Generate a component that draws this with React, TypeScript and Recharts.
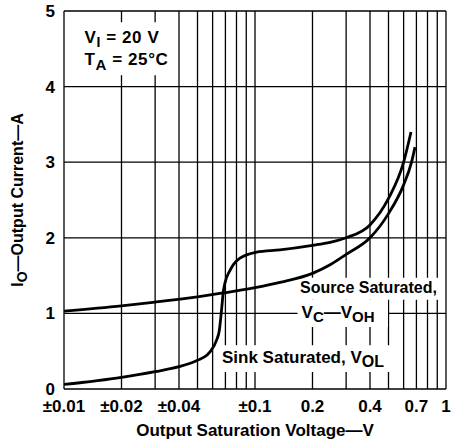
import React from "react";
import { LineChart, Line, XAxis, YAxis, ReferenceLine, ReferenceArea } from "recharts";

const FONT = '"Liberation Sans", Arial, Helvetica, sans-serif';

// output saturation voltage (V) and output current (A)
const sinkV = [0.01, 0.02, 0.03, 0.04, 0.05, 0.0561, 0.0581, 0.063, 0.0651, 0.0663, 0.0673, 0.0681, 0.0696, 0.074, 0.0834, 0.102, 0.135, 0.2, 0.247, 0.3, 0.4, 0.5, 0.6, 0.656];
const sinkI = [0.06, 0.155, 0.23, 0.295, 0.38, 0.45, 0.49, 0.65, 0.78, 0.96, 1.13, 1.27, 1.4, 1.57, 1.73, 1.81, 1.84, 1.9, 1.94, 2.0, 2.17, 2.52, 3.0, 3.4];

const sourceV = [0.01, 0.02, 0.03, 0.05, 0.068, 0.1, 0.135, 0.2, 0.25, 0.3, 0.4, 0.5, 0.6, 0.66, 0.688];
const sourceI = [1.03, 1.1, 1.15, 1.22, 1.27, 1.34, 1.41, 1.53, 1.65, 1.78, 2.0, 2.32, 2.7, 3.0, 3.2];

const xTicks = [0.01, 0.02, 0.04, 0.1, 0.2, 0.4, 0.7, 1];
const yTicks = [0, 1, 2, 3, 4, 5];
const gridX = [0.01, 0.02, 0.03, 0.04, 0.05, 0.06, 0.07, 0.08, 0.09, 0.1, 0.2, 0.3, 0.4, 0.5, 0.6, 0.7, 0.8, 0.9, 1];
const gridY = [0, 1, 2, 3, 4, 5];

const sinkData = sinkV.map((v, k) => ({ v, i: sinkI[k] }));
const sourceData = sourceV.map((v, k) => ({ v, i: sourceI[k] }));

const txt = { fontFamily: FONT, fontWeight: 700, fontSize: 16, fill: "#000" };
const tickTxt = { ...txt, fontSize: 17 };

const fmtX = (v: number) => (v <= 0.1 ? `±${v}` : `${v}`);

const CondLabel = (p: any) => {
  const { x, y } = p.viewBox;
  return (
    <g>
      <text x={x + 18} y={y + 21} {...txt} fontSize={17} letterSpacing={0.6}>
        V<tspan dy={4} fontSize={14}>I</tspan>
        <tspan dy={-4}> = 20 V</tspan>
      </text>
      <text x={x + 18} y={y + 43} {...txt} fontSize={17} letterSpacing={0.6}>
        T<tspan dy={5} fontSize={15}>A</tspan>
        <tspan dy={-5}> = 25°C</tspan>
      </text>
    </g>
  );
};

const SourceLabel = (p: any) => {
  const { x, y } = p.viewBox;
  return (
    <text x={x + 3} y={y + 15.5} {...txt}>Source Saturated,</text>
  );
};

const SourceSubLabel = (p: any) => {
  const { x, y } = p.viewBox;
  return (
    <text x={x + 4} y={y + 18} {...txt} fontSize={17}>
      V<tspan dy={4} fontSize={15}>C</tspan>
      <tspan dy={-4}>—V</tspan>
      <tspan dy={4} fontSize={15}>OH</tspan>
    </text>
  );
};

const SinkLabel = (p: any) => {
  const { x, y } = p.viewBox;
  return (
    <text x={x + 4} y={y + 18} {...txt} fontSize={17}>
      Sink Saturated, V<tspan dy={4} fontSize={16}>OL</tspan>
    </text>
  );
};

const YTitle = (p: any) => {
  const { x, y, height } = p.viewBox;
  const cx = x + 23;
  const cy = y + height / 2;
  return (
    <text x={cx} y={cy} transform={`rotate(-90 ${cx} ${cy})`} textAnchor="middle" {...txt}>
      I<tspan dy={4} fontSize={14}>O</tspan>
      <tspan dy={-4}>—Output Current—A</tspan>
    </text>
  );
};

const XTitle = (p: any) => {
  const { x, y, width } = p.viewBox;
  return (
    <text x={x + width / 2} y={y + 47} textAnchor="middle" {...txt} fontSize={17}>
      Output Saturation Voltage—V
    </text>
  );
};

export default function App() {
  return (
    <div style={{ position: "absolute", left: 0, top: 0, background: "#fff" }}>
      <LineChart width={458} height={441} margin={{ top: 11, right: 12, left: 0, bottom: 0 }}>
        <XAxis
          type="number"
          dataKey="v"
          scale="log"
          domain={[0.01, 1]}
          allowDataOverflow
          ticks={xTicks}
          tickFormatter={fmtX}
          tick={tickTxt}
          tickSize={0}
          tickMargin={11}
          axisLine={false}
          tickLine={false}
          height={52}
          label={XTitle}
        />
        <YAxis
          type="number"
          domain={[0, 5]}
          ticks={yTicks}
          tick={tickTxt}
          tickSize={0}
          tickMargin={9}
          axisLine={false}
          tickLine={false}
          width={64}
          label={YTitle}
        />
        {gridX.map((g) => (
          <ReferenceLine key={"gx" + g} x={g} stroke="#000" strokeWidth={1.3} zIndex={50} />
        ))}
        {gridY.map((g) => (
          <ReferenceLine key={"gy" + g} y={g} stroke="#000" strokeWidth={1.3} zIndex={50} />
        ))}
        <ReferenceArea x1={0.0103} x2={0.037} y1={4.15} y2={4.85} fill="#fff" fillOpacity={1} stroke="none" zIndex={60} label={CondLabel} />
        <ReferenceArea x1={0.166} x2={0.96} y1={1.18} y2={1.47} fill="#fff" fillOpacity={1} stroke="none" zIndex={60} label={SourceLabel} />
        <ReferenceArea x1={0.167} x2={0.497} y1={0.82} y2={1.18} fill="#fff" fillOpacity={1} stroke="none" zIndex={60} label={SourceSubLabel} />
        <ReferenceArea x1={0.064} x2={0.52} y1={0.225} y2={0.58} fill="#fff" fillOpacity={1} stroke="none" zIndex={60} label={SinkLabel} />
        <Line data={sourceData} dataKey="i" type="monotone" stroke="#000" strokeWidth={2.8} dot={false} isAnimationActive={false} zIndex={400} />
        <Line data={sinkData} dataKey="i" type="monotone" stroke="#000" strokeWidth={2.8} dot={false} isAnimationActive={false} zIndex={400} />
      </LineChart>
    </div>
  );
}
